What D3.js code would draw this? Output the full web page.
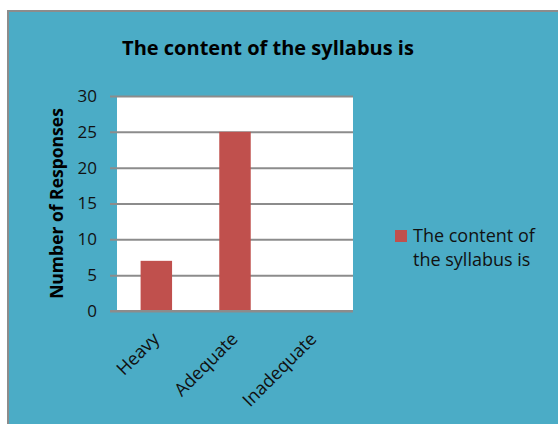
<!DOCTYPE html>
<html>
<head>
<meta charset="utf-8">
<script src="https://cdn.jsdelivr.net/npm/d3@7"></script>
<style>
  body { margin: 0; background: #ffffff; }
  svg { display: block; }
</style>
</head>
<body>
<div id="chart"></div>
<script>
var categories = ["Heavy", "Adequate", "Inadequate"];
var values = [7, 25, 0];
var yTicks = [0, 5, 10, 15, 20, 25, 30];
var seriesName = "The content of the syllabus is";

var W = 558, H = 424;
var margin = { top: 96, right: 205, bottom: 113, left: 117 };
var width = W - margin.left - margin.right,
    height = H - margin.top - margin.bottom;

var font = "'Open Sans', 'DejaVu Sans', sans-serif";

var svg = d3.select("#chart").append("svg")
    .attr("width", W)
    .attr("height", H);

// outer chart area
svg.append("rect")
    .attr("x", 8).attr("y", 11)
    .attr("width", W).attr("height", H)
    .attr("fill", "#4bacc6")
    .attr("stroke", "#8c8c8c")
    .attr("stroke-width", 2);

svg.append("text")
    .attr("x", 268).attr("y", 55)
    .attr("text-anchor", "middle")
    .attr("font-family", font)
    .attr("font-weight", "bold")
    .attr("font-size", 20)
    .attr("fill", "#000")
    .text(seriesName);

var g = svg.append("g")
    .attr("transform", "translate(" + margin.left + "," + margin.top + ")");

var x = d3.scaleBand()
    .domain(categories)
    .range([0, width])
    .paddingInner(0.6)
    .paddingOuter(0.3);

var y = d3.scaleLinear()
    .domain([0, 30])
    .range([height, 0]);

g.append("rect")
    .attr("width", width).attr("height", height)
    .attr("fill", "#ffffff");

// gridlines + ticks
var yAxis = g.append("g")
    .call(d3.axisLeft(y).tickValues(yTicks).tickSize(-width).tickPadding(20));
yAxis.select(".domain").remove();
yAxis.selectAll(".tick line")
    .attr("x1", -7)
    .attr("stroke", "#8c8c8c")
    .attr("stroke-width", 2);
yAxis.selectAll(".tick text")
    .attr("font-family", font)
    .attr("font-size", 17)
    .attr("fill", "#111");

g.selectAll(".bar")
    .data(values)
    .enter().append("rect")
    .attr("class", "bar")
    .attr("x", function (d, i) { return x(categories[i]); })
    .attr("y", function (d) { return y(d); })
    .attr("width", x.bandwidth())
    .attr("height", function (d) { return height - y(d); })
    .attr("fill", "#c0504d");

// x axis line
g.append("line")
    .attr("x1", -7).attr("x2", width)
    .attr("y1", height).attr("y2", height)
    .attr("stroke", "#8c8c8c")
    .attr("stroke-width", 2);

g.selectAll(".xlabel")
    .data(categories)
    .enter().append("text")
    .attr("class", "xlabel")
    .attr("transform", function (d) {
        var cx = x(d) + x.bandwidth() / 2 + 4;
        return "translate(" + cx + "," + (height + 29) + ") rotate(-45)";
    })
    .attr("text-anchor", "end")
    .attr("font-family", font)
    .attr("font-size", 18)
    .attr("fill", "#111")
    .text(function (d) { return d; });

svg.append("text")
    .attr("transform", "translate(63," + (margin.top + height / 2) + ") rotate(-90)")
    .attr("text-anchor", "middle")
    .attr("font-family", font)
    .attr("font-weight", "bold")
    .attr("font-size", 17.5)
    .attr("fill", "#000")
    .text("Number of Responses");

// legend
var legend = svg.append("g").attr("transform", "translate(395,230)");
legend.append("rect")
    .attr("width", 12).attr("height", 12)
    .attr("fill", "#c0504d");
legend.append("text")
    .attr("x", 18).attr("y", 12)
    .attr("font-family", font)
    .attr("font-size", 18)
    .attr("fill", "#111")
    .text("The content of");
legend.append("text")
    .attr("x", 18).attr("y", 35.5)
    .attr("font-family", font)
    .attr("font-size", 18)
    .attr("fill", "#111")
    .text("the syllabus is");
</script>
</body>
</html>
